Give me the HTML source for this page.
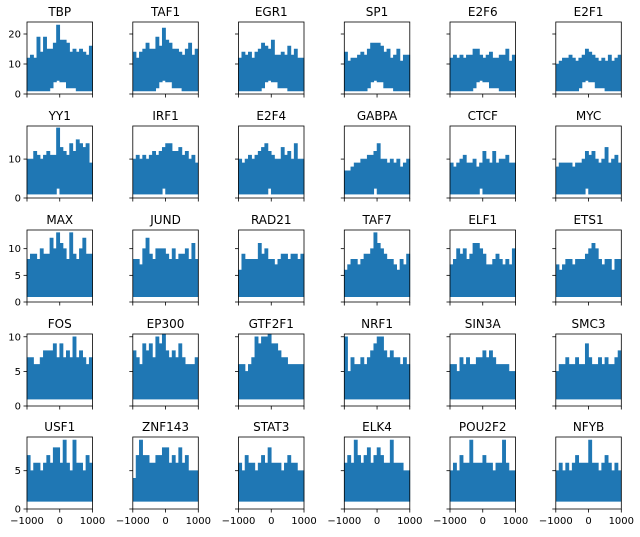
<!DOCTYPE html>
<html><head><meta charset="utf-8"><style>
body{margin:0;background:#fff;}
svg text{font-family:"DejaVu Sans","Liberation Sans",sans-serif;fill:#000;}
</style></head><body>
<svg id="fig" width="640" height="532" xmlns="http://www.w3.org/2000/svg"></svg>
<script>
const titles=[["TBP","TAF1","EGR1","SP1","E2F6","E2F1"],["YY1","IRF1","E2F4","GABPA","CTCF","MYC"],["MAX","JUND","RAD21","TAF7","ELF1","ETS1"],["FOS","EP300","GTF2F1","NRF1","SIN3A","SMC3"],["USF1","ZNF143","STAT3","ELK4","POU2F2","NFYB"]];
const rowYMax=[24,18.5,13.5,10.4,9.4];
const rowYTicks=[[0,10,20],[0,10],[0,5,10],[0,5,10],[0,5]];
const xTicks=[-1000,0,1000];
const xTickLabels=["\u22121000","0","1000"];
const upperTBP=[12,13,12,19,14,19,15,15,17,23,18,18,17,14,15,14,15,14,13,16];
const upperTAF1=[14,12,14,15,17,15,15,19,16,22,18,17,15,15,14,13,15,17,13,15];
const upperEGR1=[12,14,13,14,12,14,15,17,16,15,18,13,13,14,13,16,13,15,12,12];
const upperSP1=[14,11,12,12,13,14,13,15,17,17,17,16,14,15,12,13,15,11,13,13];
const upperE2F6=[12,13,12,13,12,13,13,15,15,13,12,13,14,12,12,13,13,15,11,13];
const upperE2F1=[10,11,12,12,13,12,11,12,13,15,14,13,12,11,12,11,13,11,12,13];
const upperYY1=[10,10,12,11,10,11,12,11,11,18,13,12,11,14,12,15,14,13,14,9];
const upperIRF1=[10,11,10,11,10,11,12,11,12,13,14,14,12,12,13,11,12,10,11,9];
const upperE2F4=[10,9,10,11,10,11,12,13,14,12,11,10,10,13,11,12,10,14,10,10];
const upperGABPA=[7,7,8,9,9,10,10,11,11,12,14,10,10,9,10,9,10,8,9,10];
const upperCTCF=[9,8,9,10,11,9,9,10,8,9,12,10,9,12,9,10,10,11,9,9];
const upperMYC=[8,9,9,9,9,8,9,9,10,12,11,12,10,9,10,13,9,10,11,9];
const upperMAX=[8,9,9,8,10,9,9,12,10,13,11,10,8,13,9,8,10,12,9,9];
const upperJUND=[8,8,7,10,12,9,8,10,10,10,9,8,10,8,9,9,10,8,11,8];
const upperRAD21=[6,9,8,8,8,8,11,9,10,8,8,7,8,9,9,8,9,9,8,9];
const upperTAF7=[6,7,8,8,7,8,9,9,10,13,11,10,9,8,8,7,6,8,7,9];
const upperELF1=[7,8,10,9,10,8,9,11,11,10,9,7,7,8,9,8,7,8,7,10];
const upperETS1=[7,6,7,8,8,7,8,8,8,9,10,11,10,8,7,8,8,6,8,8];
const upperFOS=[7,7,6,6,7,8,8,8,9,7,9,7,8,7,10,7,8,7,6,7];
const upperEP300=[8,7,6,9,8,9,7,10,9,11,8,7,8,7,9,7,6,6,6,7];
const upperGTF2F1=[6,6,5,6,7,10,9,10,10,11,9,9,8,7,7,6,6,6,6,6];
const upperNRF1=[10,5,7,6,6,7,6,7,8,9,10,10,8,7,8,7,7,6,7,6];
const upperSIN3A=[6,6,5,7,6,7,6,6,7,7,8,7,8,7,6,6,6,6,5,5];
const upperSMC3=[5,6,6,7,6,6,7,6,6,9,7,6,6,7,6,7,6,6,7,8];
const upperUSF1=[7,5,6,6,5,6,7,6,8,8,6,9,6,5,9,6,6,5,7,6];
const upperZNF143=[4,7,9,7,7,6,6,7,7,8,8,6,7,6,8,6,7,5,5,5];
const upperSTAT3=[6,5,7,6,6,5,6,7,6,8,6,6,6,5,6,7,6,6,5,5];
const upperELK4=[6,7,6,9,7,6,7,8,6,7,8,7,6,6,9,6,6,6,5,5];
const upperPOU2F2=[5,6,5,7,6,6,9,6,6,6,7,6,6,5,6,6,9,6,5,5];
const upperNFYB=[5,6,5,6,5,6,7,6,6,6,9,6,6,5,6,7,6,5,6,5];
const lowerRow1=[1,1,1,1,1,1,1,2,4,4.5,4,4,2,2,2,1,1,1,1,1];
const lowerRow2=[1,1,1,1,1,1,1,1,1,2.5,1,1,1,1,1,1,1,1,1,1];
const lowerFlat=[1,1,1,1,1,1,1,1,1,1,1,1,1,1,1,1,1,1,1,1];
const uppers=[[upperTBP,upperTAF1,upperEGR1,upperSP1,upperE2F6,upperE2F1],[upperYY1,upperIRF1,upperE2F4,upperGABPA,upperCTCF,upperMYC],[upperMAX,upperJUND,upperRAD21,upperTAF7,upperELF1,upperETS1],[upperFOS,upperEP300,upperGTF2F1,upperNRF1,upperSIN3A,upperSMC3],[upperUSF1,upperZNF143,upperSTAT3,upperELK4,upperPOU2F2,upperNFYB]];
const lowers=[lowerRow1,lowerRow2,lowerFlat,lowerFlat,lowerFlat];

const NS="http://www.w3.org/2000/svg";
const svg=document.getElementById("fig");
const colL=[27,132.8,238.5,344.3,450,555.8], W=65.5;
const rowT=[22,126,230,334,437], H=72;
function mk(t,a){const e=document.createElementNS(NS,t);for(const k in a)e.setAttribute(k,a[k]);return e;}
for(let r=0;r<5;r++){for(let c=0;c<6;c++){
  const x0=colL[c],y0=rowT[r];
  const sx=v=>x0+(v+1000)/2000*W;
  const sy=v=>y0+H-v/rowYMax[r]*H;
  const g=mk("g",{});
  
  
  svg.appendChild(g);
  const up=uppers[r][c], lo=lowers[r], n=up.length, step=2000/n;
  let d="";
  for(let i=0;i<n;i++){const xa=sx(-1000+i*step),xb=sx(-1000+(i+1)*step);d+=(i?"L":"M")+xa+","+sy(Math.min(up[i],rowYMax[r]))+"L"+xb+","+sy(Math.min(up[i],rowYMax[r]));}
  for(let i=n-1;i>=0;i--){const xa=sx(-1000+i*step),xb=sx(-1000+(i+1)*step);d+="L"+xb+","+sy(lo[i])+"L"+xa+","+sy(lo[i]);}
  const p=mk("path",{d:d+"Z",fill:"#1f77b4",stroke:"#1f77b4","stroke-width":"0.6"});
  
  
  g.appendChild(p);
  const fr=mk("rect",{x:x0,y:y0,width:W,height:H,fill:"none",stroke:"#000","stroke-width":"0.8"});
  
  
  g.appendChild(fr);
  const tt=mk("text",{x:x0+W/2,y:y0-6,"text-anchor":"middle","font-size":"12"});
  tt.textContent=titles[r][c];
  
  
  g.appendChild(tt);
  rowYTicks[r].forEach(v=>{const y=sy(v);g.appendChild(mk("line",{x1:x0-3.5,x2:x0,y1:y,y2:y,stroke:"#000","stroke-width":"0.8"}));
    if(c===0){const l=mk("text",{x:x0-6,y:y+3.5,"text-anchor":"end","font-size":"10"});l.textContent=v;
      
      
      g.appendChild(l);}});
  xTicks.forEach((v,i)=>{const x=sx(v);g.appendChild(mk("line",{x1:x,x2:x,y1:y0+H,y2:y0+H+3.5,stroke:"#000","stroke-width":"0.8"}));
    if(r===4){const l=mk("text",{x:x,y:y0+H+15,"text-anchor":"middle","font-size":"10"});l.textContent=xTickLabels[i];
      
      
      g.appendChild(l);}});
}}
</script>
</body></html>
